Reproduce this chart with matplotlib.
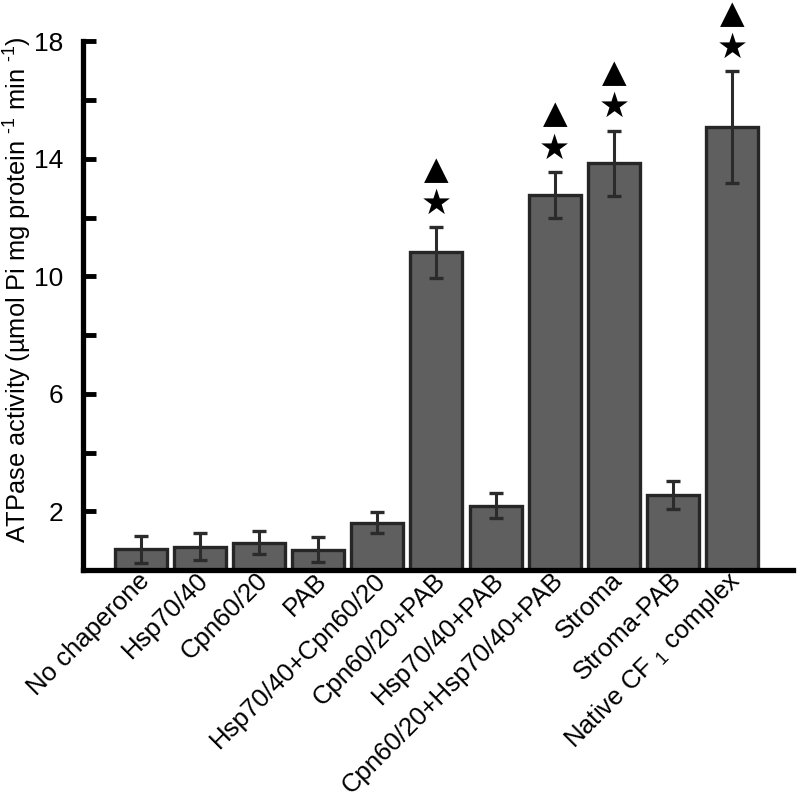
import matplotlib
matplotlib.use('Agg')
import matplotlib.pyplot as plt
import matplotlib.transforms as mtransforms
import numpy as np

plt.rcParams['font.family'] = ['Liberation Sans', 'DejaVu Sans']
plt.rcParams['mathtext.fontset'] = 'custom'
plt.rcParams['mathtext.rm'] = 'Liberation Sans'
plt.rcParams['mathtext.it'] = 'Liberation Sans'

# Data
labels = ['No chaperone', 'Hsp70/40', 'Cpn60/20', 'PAB', 'Hsp70/40+Cpn60/20',
          'Cpn60/20+PAB', 'Hsp70/40+PAB', 'Cpn60/20+Hsp70/40+PAB', 'Stroma',
          'Stroma-PAB', 'Native CF $_{1}$ complex']
activity = [0.71, 0.79, 0.93, 0.69, 1.61, 10.81, 2.19, 12.76, 13.84, 2.56, 15.07]
errors = [0.46, 0.46, 0.40, 0.42, 0.36, 0.86, 0.42, 0.79, 1.12, 0.48, 1.91]
significant = [False, False, False, False, False, True, False, True, True, False, True]

fig = plt.figure(figsize=(7.97, 8.06), dpi=100)
ax = fig.add_axes([0.104, 0.2928, 0.891, 0.656])

x = np.arange(len(labels))
ax.bar(x, activity, width=0.88, color='#5f5f5f', edgecolor='#262626', linewidth=2.4,
       yerr=errors, error_kw=dict(ecolor='#2b2b2b', elinewidth=2.2, capsize=5, capthick=2.4),
       zorder=2)

# significance marks above the error bars
for xi, v, e, s in zip(x, activity, errors, significant):
    if not s:
        continue
    ax.annotate('\u2605', (xi, v + e), xytext=(0, 17), textcoords='offset points',
                ha='center', va='center', fontsize=25, family='DejaVu Sans',
                annotation_clip=False)
    ax.annotate('\u25B2', (xi, v + e), xytext=(0, 41), textcoords='offset points',
                ha='center', va='center', fontsize=23, family='DejaVu Sans',
                annotation_clip=False)

ax.set_xlim(-0.98, 11.03)
ax.set_ylim(0, 18)
ax.set_yticks([2, 6, 10, 14, 18])
ax.set_yticks([4, 8, 12, 16], minor=True)
ax.tick_params(axis='y', which='both', direction='in', length=9, width=3.5,
               labelsize=19, pad=14)
ax.tick_params(axis='x', length=0, pad=7)
ax.set_xticks(x)
ax.set_xticklabels(labels, rotation=45, ha='right', va='center',
                   rotation_mode='anchor', fontsize=18.5)
shift = mtransforms.ScaledTranslation(5 / 100, 3 / 100, fig.dpi_scale_trans)
for lbl in ax.get_xticklabels():
    lbl.set_transform(lbl.get_transform() + shift)

for side in ['top', 'right']:
    ax.spines[side].set_visible(False)
for side in ['left', 'bottom']:
    ax.spines[side].set_linewidth(3.8)
    ax.spines[side].set_capstyle('projecting')

ax.set_ylabel('ATPase activity (\u00b5mol Pi mg protein $^{\\mathregular{\u2010 1}}$ '
              'min $^{\\mathregular{\u2010 1}}$)', fontsize=18.3)
ax.yaxis.set_label_coords(-0.069, 0.53)

fig.savefig('out.png', dpi=100)
